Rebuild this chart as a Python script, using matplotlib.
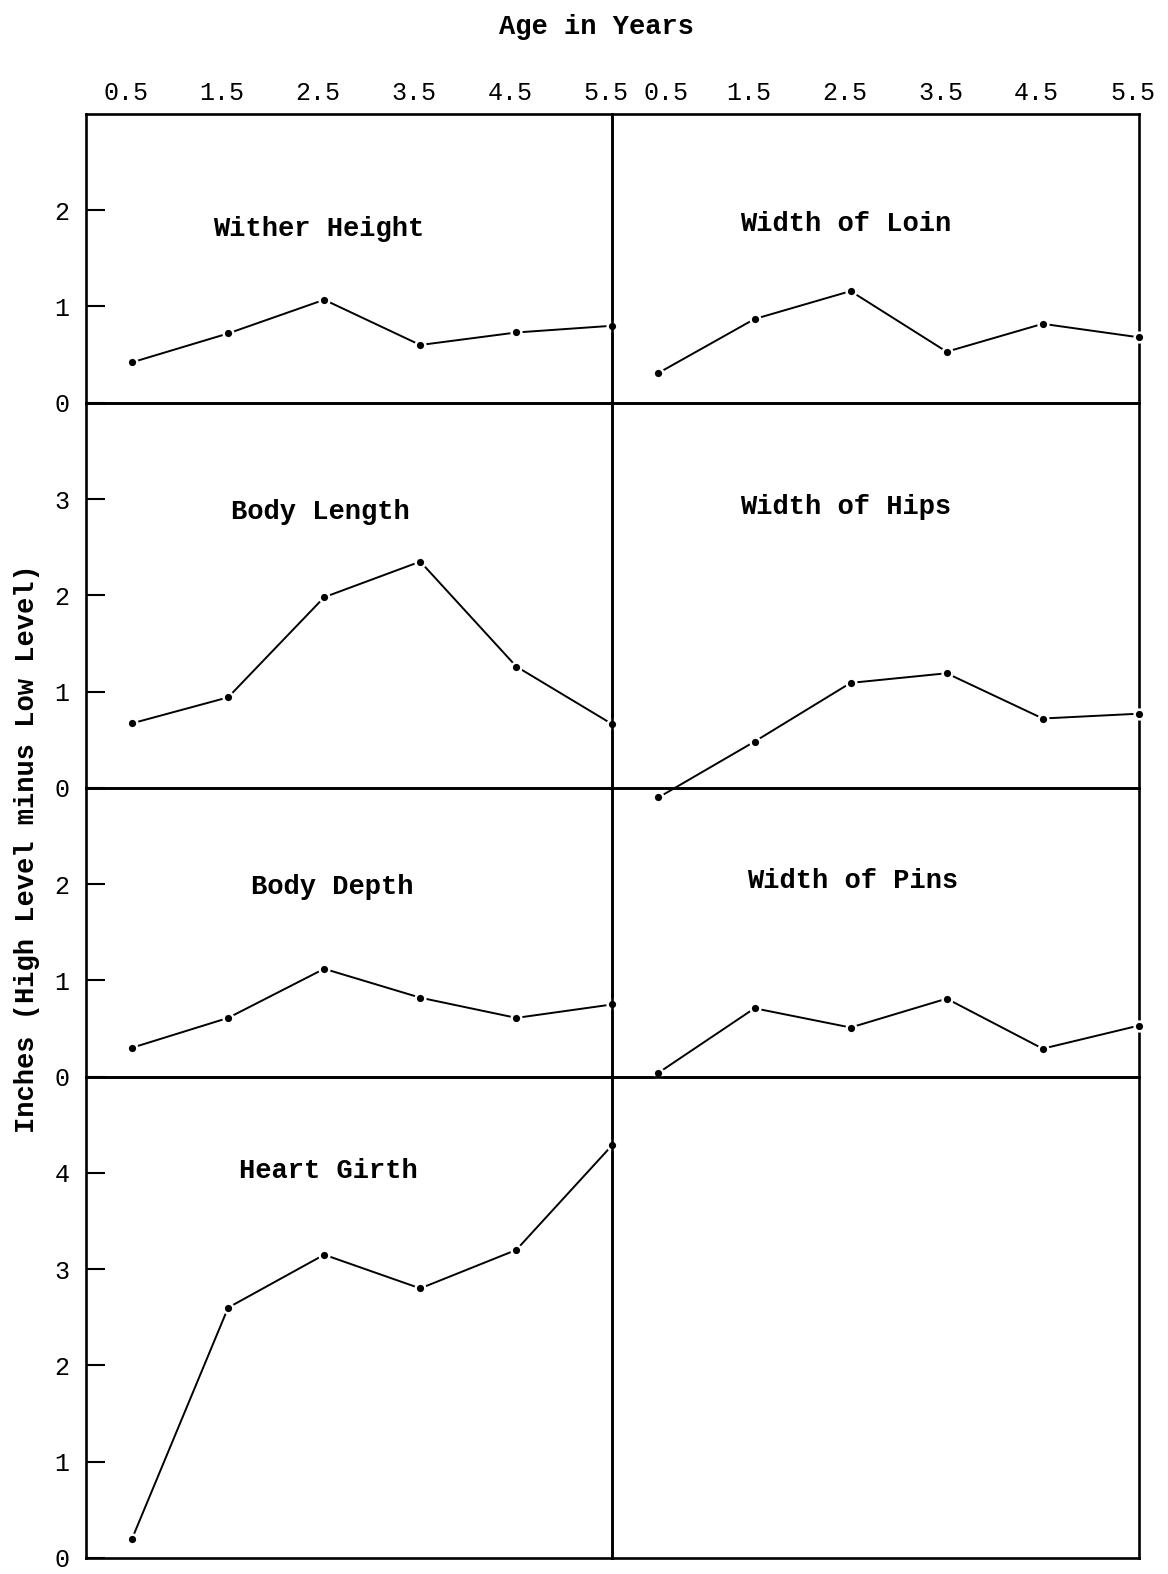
import matplotlib
matplotlib.use("Agg")
import matplotlib.pyplot as plt
from matplotlib.transforms import ScaledTranslation

plt.rcParams["font.family"] = ["Liberation Mono", "DejaVu Sans Mono"]

ages = [0.5, 1.5, 2.5, 3.5, 4.5, 5.5]
age_labels = ["0.5", "1.5", "2.5", "3.5", "4.5", "5.5"]

wither_height = [0.42, 0.72, 1.07, 0.60, 0.73, 0.80]
width_of_loin = [0.31, 0.87, 1.16, 0.53, 0.82, 0.68]
body_length = [0.67, 0.94, 1.98, 2.35, 1.26, 0.66]
width_of_hips = [-0.10, 0.48, 1.09, 1.19, 0.72, 0.77]
body_depth = [0.30, 0.61, 1.12, 0.82, 0.61, 0.75]
width_of_pins = [0.04, 0.71, 0.51, 0.81, 0.29, 0.53]
heart_girth = [0.20, 2.60, 3.15, 2.80, 3.20, 4.29]

# rows: (ymax, left panel, right panel)
row_ymax = [3, 4, 3, 5]
panels = [
    [("Wither Height", wither_height, (2.44, 1.80)), ("Width of Loin", width_of_loin, (2.45, 1.86))],
    [("Body Length", body_length, (2.46, 2.87)), ("Width of Hips", width_of_hips, (2.45, 2.92))],
    [("Body Depth", body_depth, (2.58, 1.97)), ("Width of Pins", width_of_pins, (2.52, 2.03))],
    [("Heart Girth", heart_girth, (2.54, 4.02)), None],
]

fig = plt.figure(figsize=(11.68, 15.74), dpi=100)
gs = fig.add_gridspec(4, 2, left=0.0736, right=0.975, top=0.9276, bottom=0.0102,
                      hspace=0, wspace=0, height_ratios=row_ymax)

for r in range(4):
    for c in range(2):
        ax = fig.add_subplot(gs[r, c])
        ax.patch.set_visible(False)
        ax.set_xlim(0.02, 5.5)
        ax.set_ylim(0, row_ymax[r])
        for s in ax.spines.values():
            s.set_linewidth(1.9)
        # x labels only along the top
        if r == 0:
            ax.xaxis.tick_top()
            ax.set_xticks(ages)
            ax.set_xticklabels(age_labels, fontsize=18)
            ax.tick_params(axis="x", length=0, pad=6.5)
            # typed labels sit a bit left of the points, first right one pushed right
            for i, lab in enumerate(ax.get_xticklabels()):
                dx = -6 if (c == 0 or i > 0) else 8
                lab.set_transform(lab.get_transform() +
                                  ScaledTranslation(dx / 100, 0, fig.dpi_scale_trans))
        else:
            ax.set_xticks([])
        # y ticks only on the left column, pointing inward
        if c == 0:
            ax.set_yticks(range(row_ymax[r]))
            ax.tick_params(axis="y", direction="in", length=14, width=1.5,
                           labelsize=18, pad=12)
        else:
            ax.set_yticks([])

        p = panels[r][c]
        if p is None:
            continue
        title, vals, pos = p
        ax.plot(ages, vals, color="black", linewidth=1.4, marker="o", markersize=7,
                markerfacecolor="black", markeredgecolor="white", markeredgewidth=1.8,
                clip_on=False, zorder=3)
        ax.text(pos[0], pos[1], title, ha="center", va="center", fontsize=19.5,
                fontweight="bold")

fig.text(0.511, 0.983, "Age in Years", ha="center", va="center", fontsize=19.5,
         fontweight="bold")
fig.text(0.023, 0.4606, "Inches (High Level minus Low Level)", ha="center", va="center",
         rotation=90, fontsize=19.5, fontweight="bold")

plt.savefig("out.png", dpi=100)
